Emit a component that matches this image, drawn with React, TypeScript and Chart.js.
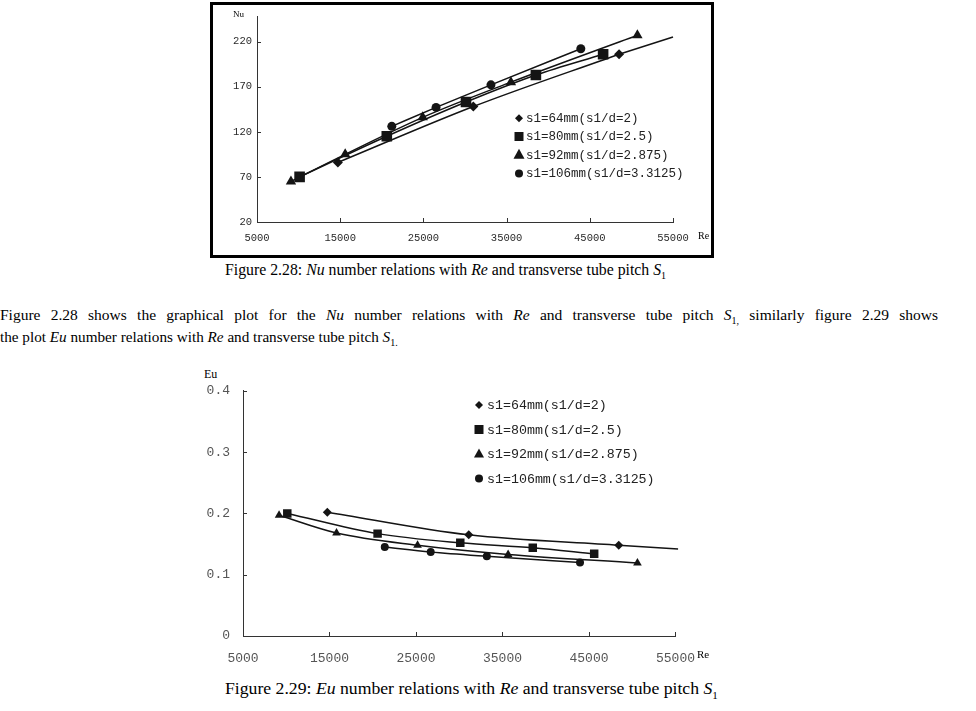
import React, { useEffect, useRef } from "react";
import { Chart, registerables } from "chart.js";

Chart.register(...registerables);

// ---------- shared ----------
const seriesLabels = [
  "s1=64mm(s1/d=2)",
  "s1=80mm(s1/d=2.5)",
  "s1=92mm(s1/d=2.875)",
  "s1=106mm(s1/d=3.3125)",
];
const markerStyles = ["rectRot", "rect", "triangle", "circle"];
const reTicks = [5000, 15000, 25000, 35000, 45000, 55000];

// ---------- Figure 2.28 : Nu ----------
const nuRe64 = [14720, 31000, 48520];
const nuVal64 = [86, 148, 206];
const nuRe80 = [10120, 20600, 30120, 38520, 46600];
const nuVal80 = [70, 115, 153, 183, 206];
const nuRe92 = [9080, 15600, 24920, 35520, 50720];
const nuVal92 = [65, 95, 136, 175, 227];
const nuRe106 = [21200, 26520, 33120, 43920];
const nuVal106 = [126, 147, 172, 212];
// s1=64 trend line continues past the last point
const nuTrendRe64 = [48520, 55000];
const nuTrendVal64 = [206, 225];
const nuTicksY = [20, 70, 120, 170, 220];

// ---------- Figure 2.29 : Eu ----------
const euRe64 = [14750, 31100, 48440];
const euVal64 = [0.202, 0.165, 0.148];
const euRe80 = [10120, 20560, 30120, 38500, 45600];
const euVal80 = [0.2, 0.167, 0.152, 0.144, 0.134];
const euRe92 = [9170, 15810, 25180, 35650, 50600];
const euVal92 = [0.197, 0.168, 0.148, 0.133, 0.119];
const euRe106 = [21390, 26700, 33190, 43960];
const euVal106 = [0.145, 0.137, 0.13, 0.12];
const euTrendRe64 = [48440, 55300];
const euTrendVal64 = [0.148, 0.142];
const euTicksY = [0, 0.1, 0.2, 0.3, 0.4];

const INK = "#141414";

function pts(xs: number[], ys: number[]) {
  return xs.map((x, i) => ({ x, y: ys[i] }));
}

function drawMarker(ctx: CanvasRenderingContext2D, style: string, x: number, y: number, r: number) {
  ctx.beginPath();
  if (style === "rectRot") {
    ctx.moveTo(x, y - r);
    ctx.lineTo(x + r, y);
    ctx.lineTo(x, y + r);
    ctx.lineTo(x - r, y);
    ctx.closePath();
  } else if (style === "rect") {
    ctx.rect(x - r, y - r, 2 * r, 2 * r);
  } else if (style === "triangle") {
    const h = r * 1.8;
    ctx.moveTo(x, y - h / 2 - 1);
    ctx.lineTo(x + r, y + h / 2 - 1);
    ctx.lineTo(x - r, y + h / 2 - 1);
    ctx.closePath();
  } else {
    ctx.arc(x, y, r, 0, Math.PI * 2);
  }
  ctx.fill();
}

const innerTicks = {
  id: "innerTicks",
  afterDraw(chart: any) {
    const { ctx, chartArea, scales } = chart;
    ctx.save();
    ctx.strokeStyle = "#333";
    ctx.lineWidth = 1;
    for (const t of scales.x.ticks) {
      const px = Math.round(scales.x.getPixelForValue(t.value)) + 0.5;
      ctx.beginPath();
      ctx.moveTo(px, chartArea.bottom);
      ctx.lineTo(px, chartArea.bottom - 4);
      ctx.stroke();
    }
    for (const t of scales.y.ticks) {
      const py = Math.round(scales.y.getPixelForValue(t.value)) + 0.5;
      ctx.beginPath();
      ctx.moveTo(chartArea.left, py);
      ctx.lineTo(chartArea.left + 4, py);
      ctx.stroke();
    }
    ctx.restore();
  },
};

const customLegend = {
  id: "customLegend",
  afterDraw(chart: any, _args: any, opts: any) {
    const { ctx } = chart;
    ctx.save();
    ctx.fillStyle = INK;
    ctx.font = opts.font;
    ctx.textBaseline = "middle";
    seriesLabels.forEach((lab, i) => {
      const y = opts.rows[i];
      drawMarker(ctx, markerStyles[i], opts.markerX, y, opts.sizes[i]);
      ctx.fillStyle = "#222";
      ctx.fillText(lab, opts.textX, y + 0.5);
      ctx.fillStyle = INK;
    });
    ctx.restore();
  },
};

function buildDatasets(
  series: { xs: number[]; ys: number[] }[],
  trend: { xs: number[]; ys: number[] },
  radii: number[],
) {
  const ds: any[] = series.map((s, i) => ({
    label: seriesLabels[i],
    data: pts(s.xs, s.ys),
    showLine: true,
    cubicInterpolationMode: "monotone",
    borderColor: INK,
    borderWidth: 1.5,
    pointStyle: markerStyles[i],
    pointRadius: radii[i],
    pointBackgroundColor: INK,
    pointBorderColor: INK,
    pointBorderWidth: 0,
  }));
  ds.push({
    label: "trend",
    data: pts(trend.xs, trend.ys),
    showLine: true,
    borderColor: INK,
    borderWidth: 1.5,
    pointRadius: 0,
    clip: 8,
  });
  return ds;
}

function axisOptions(
  yMin: number,
  yMax: number,
  yTicks: number[],
  yWidth: number,
  xHeight: number,
  fontSize: number,
  tickColor: string,
  yPad: number,
  xPad: number,
) {
  const font = { family: "'Liberation Mono', 'DejaVu Sans Mono', monospace", size: fontSize };
  return {
    x: {
      type: "linear",
      min: 5000,
      max: 55000,
      afterBuildTicks: (s: any) => {
        s.ticks = reTicks.map((v) => ({ value: v }));
      },
      afterFit: (s: any) => {
        s.height = xHeight;
      },
      ticks: { font, color: tickColor, padding: xPad, maxRotation: 0, callback: (v: any) => String(v) },
      grid: { drawOnChartArea: false, drawTicks: false },
      border: { display: true, color: "#333", width: 1 },
    },
    y: {
      type: "linear",
      min: yMin,
      max: yMax,
      afterBuildTicks: (s: any) => {
        s.ticks = yTicks.map((v) => ({ value: v }));
      },
      afterFit: (s: any) => {
        s.width = yWidth;
      },
      ticks: { font, color: tickColor, padding: yPad, callback: (v: any) => String(v) },
      grid: { drawOnChartArea: false, drawTicks: false },
      border: { display: true, color: "#333", width: 1 },
    },
  };
}

export default function App() {
  const nuRef = useRef<HTMLCanvasElement>(null);
  const euRef = useRef<HTMLCanvasElement>(null);

  useEffect(() => {
    const nuChart = new Chart(nuRef.current as HTMLCanvasElement, {
      type: "scatter",
      data: {
        datasets: buildDatasets(
          [
            { xs: nuRe64, ys: nuVal64 },
            { xs: nuRe80, ys: nuVal80 },
            { xs: nuRe92, ys: nuVal92 },
            { xs: nuRe106, ys: nuVal106 },
          ],
          { xs: nuTrendRe64, ys: nuTrendVal64 },
          [5, 7.5, 6, 4.5],
        ),
      },
      options: {
        animation: false,
        responsive: false,
        maintainAspectRatio: false,
        layout: { padding: { top: 7, right: 35, left: 0, bottom: 0 } },
        plugins: {
          legend: { display: false },
          tooltip: { enabled: false },
          customLegend: {
            font: "12.5px 'Liberation Mono', monospace",
            markerX: 305,
            textX: 312,
            rows: [113.3, 131.5, 149.8, 168.5],
            sizes: [4, 4.5, 5.5, 4],
          },
        } as any,
        scales: axisOptions(20, 248, nuTicksY, 43, 33, 10.5, "#2a2a2a", 5, 10) as any,
      },
      plugins: [innerTicks, customLegend],
    });

    const euChart = new Chart(euRef.current as HTMLCanvasElement, {
      type: "scatter",
      data: {
        datasets: buildDatasets(
          [
            { xs: euRe64, ys: euVal64 },
            { xs: euRe80, ys: euVal80 },
            { xs: euRe92, ys: euVal92 },
            { xs: euRe106, ys: euVal106 },
          ],
          { xs: euTrendRe64, ys: euTrendVal64 },
          [4.5, 6, 5, 4],
        ),
      },
      options: {
        animation: false,
        responsive: false,
        maintainAspectRatio: false,
        layout: { padding: { top: 16, right: 27, left: 0, bottom: 0 } },
        plugins: {
          legend: { display: false },
          tooltip: { enabled: false },
          customLegend: {
            font: "13.3px 'Liberation Mono', monospace",
            markerX: 299,
            textX: 307,
            rows: [35, 59.5, 84, 108.5],
            sizes: [4, 4.5, 5, 4],
          },
        } as any,
        scales: axisOptions(0, 0.4, euTicksY, 63, 34, 13, "#555", 13, 15) as any,
      },
      plugins: [innerTicks, customLegend],
    });

    return () => {
      nuChart.destroy();
      euChart.destroy();
    };
  }, []);

  const serif = "'Liberation Serif', 'Times New Roman', serif";
  const abs = (l: number, t: number, extra: any = {}) => ({
    position: "absolute" as const,
    left: l,
    top: t,
    whiteSpace: "nowrap" as const,
    fontFamily: serif,
    color: "#000",
    lineHeight: 1,
    ...extra,
  });

  return (
    <div style={{ position: "absolute", left: 0, top: 0, width: 976, height: 711, background: "#fff", overflow: "hidden" }}>
      {/* Figure 2.28 frame */}
      <div
        style={{
          position: "absolute",
          left: 210,
          top: 2,
          width: 504,
          height: 256,
          border: "3px solid #000",
          boxSizing: "border-box",
        }}
      />
      <canvas ref={nuRef} width={494} height={250} style={{ position: "absolute", left: 214, top: 5, width: 494, height: 250 }} />
      <div style={abs(233, 10, { fontSize: 9 })}>Nu</div>
      <div style={abs(698, 231, { fontSize: 10 })}>Re</div>

      <div style={abs(225, 262, { fontSize: 15.8 })}>
        Figure 2.28: <i>Nu</i> number relations with <i>Re</i> and transverse tube pitch <i>S</i>
        <sub style={{ fontSize: 10 }}>1</sub>
      </div>

      <div
        style={abs(0, 307, {
          fontSize: 15.5,
          width: 938,
          whiteSpace: "normal",
          textAlign: "justify",
          textAlignLast: "justify",
        })}
      >
        Figure 2.28 shows the graphical plot for the <i>Nu</i> number relations with <i>Re</i> and transverse tube pitch{" "}
        <i>S</i>
        <sub style={{ fontSize: 10 }}>1,</sub> similarly figure 2.29 shows
      </div>
      <div style={abs(0, 329, { fontSize: 15.2 })}>
        the plot <i>Eu</i> number relations with <i>Re</i> and transverse tube pitch <i>S</i>
        <sub style={{ fontSize: 10 }}>1.</sub>
      </div>

      {/* Figure 2.29 */}
      <div style={abs(204, 368, { fontSize: 12 })}>Eu</div>
      <canvas ref={euRef} width={530} height={300} style={{ position: "absolute", left: 180, top: 370, width: 530, height: 300 }} />
      <div style={abs(697, 649, { fontSize: 11 })}>Re</div>

      <div style={abs(225, 680, { fontSize: 17.7 })}>
        Figure 2.29: <i>Eu</i> number relations with <i>Re</i> and transverse tube pitch <i>S</i>
        <sub style={{ fontSize: 11 }}>1</sub>
      </div>
    </div>
  );
}
